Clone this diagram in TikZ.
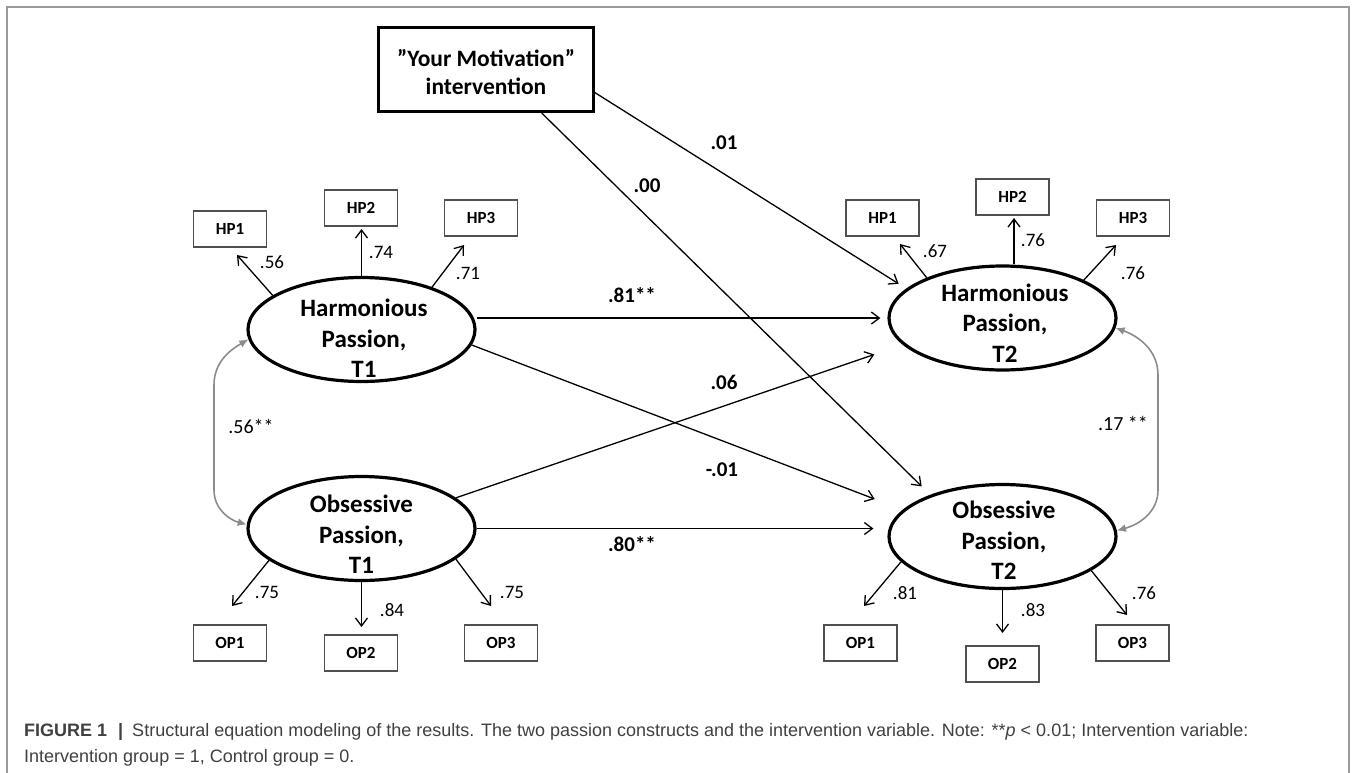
\documentclass[tikz,border=0pt]{standalone}
\usepackage{fontspec}
\setmainfont{Carlito}
\newfontfamily\capfont{Liberation Sans}
\usetikzlibrary{shapes.geometric,arrows.meta}
\definecolor{covgray}{HTML}{8C8C8C}
\definecolor{boxgray}{HTML}{505050}
\definecolor{framegray}{HTML}{9A9A9A}
\definecolor{captext}{HTML}{404040}
\begin{document}
\begin{tikzpicture}[x=10bp,y=10bp]
\tikzstyle{every node}+=[inner sep=0pt]
\tikzstyle{latent}=[draw=black, line width=3.2bp, ellipse, minimum width=227bp, minimum height=104bp]
\tikzstyle{ltext}=[align=center, font=\fontsize{25bp}{30.5bp}\selectfont\bfseries]
\tikzstyle{item}=[draw=boxgray, line width=1.2bp, minimum width=73bp, minimum height=36bp, font=\fontsize{17bp}{20bp}\selectfont\bfseries]
\tikzstyle{load}=[font=\fontsize{19bp}{22bp}\selectfont]
\tikzstyle{coef}=[font=\fontsize{21bp}{24bp}\selectfont\bfseries]
\tikzstyle{corr}=[font=\fontsize{20bp}{24bp}\selectfont]
\tikzstyle{regr}=[black, line width=1.3bp, -{Straight Barb[length=8bp,width=12bp,line width=1.3bp]}]
\tikzstyle{cov}=[covgray, line width=1.6bp, {Latex[length=9bp,width=8bp]}-{Latex[length=9bp,width=8bp]}]
\useasboundingbox (0,0) rectangle (135.6,-77.3);
\draw [framegray, line width=1.2bp] (0.7,-77.5) -- (0.7,-0.7) -- (134.9,-0.7) -- (134.9,-77.5);
\draw (48.6,-6.95) node (int) [draw=black, line width=3bp, minimum width=215bp, minimum height=84bp] {};
\draw (48.6,-7.2) node (inttx) [align=center, font=\fontsize{23.5bp}{28bp}\selectfont\bfseries] {”Your Motivation”\\intervention};
\draw (36.15,-32.95) node (hpa) [latent] {};
\draw (36.4,-33.85) node (hpatx) [ltext] {Harmonious\\Passion,\\T1};
\draw (100.25,-31.8) node (hpb) [latent] {};
\draw (100.5,-32.3) node (hpbtx) [ltext] {Harmonious\\Passion,\\T2};
\draw (36.15,-52.85) node (opa) [latent] {};
\draw (36.15,-53.45) node (opatx) [ltext] {Obsessive\\Passion,\\T1};
\draw (100.25,-53.65) node (opb) [latent] {};
\draw (100.4,-54.05) node (opbtx) [ltext] {Obsessive\\Passion,\\T2};
\draw (23.0,-22.9) node (hp1a) [item] {HP1};
\draw (36.1,-20.8) node (hp2a) [item] {HP2};
\draw (48.1,-21.8) node (hp3a) [item] {HP3};
\draw (88.25,-21.8) node (hp1b) [item] {HP1};
\draw (101.25,-19.7) node (hp2b) [item] {HP2};
\draw (113.3,-21.8) node (hp3b) [item] {HP3};
\draw (23.0,-64.3) node (op1a) [item] {OP1};
\draw (36.1,-65.3) node (op2a) [item] {OP2};
\draw (50.1,-64.3) node (op3a) [item] {OP3};
\draw (86.05,-64.3) node (op1b) [item] {OP1};
\draw (100.25,-66.4) node (op2b) [item] {OP2};
\draw (113.25,-64.3) node (op3b) [item] {OP3};
\coordinate (hp1at) at (23.7,-25.5);
\coordinate (hp2at) at (36.15,-22.9);
\coordinate (hp3at) at (46.4,-24.5);
\coordinate (hp1bt) at (90.0,-24.4);
\coordinate (hp2bt) at (101.4,-21.8);
\coordinate (hp3bt) at (111.6,-24.5);
\coordinate (op1at) at (23.2,-60.6);
\coordinate (op2at) at (36.15,-62.7);
\coordinate (op3at) at (49.1,-60.6);
\coordinate (op1bt) at (86.4,-60.6);
\coordinate (op2bt) at (100.25,-63.3);
\coordinate (op3bt) at (112.7,-61.5);
\draw [regr] (hpa.159) -- (hp1at);
\draw [regr] (hpa.north) -- (hp2at);
\draw [regr] (hpa.31) -- (hp3at);
\draw [regr] (hpb.152) -- (hp1bt);
\draw [regr] (hp2bt |- hpb.north) -- (hp2bt);
\draw [regr] (hpb.25) -- (hp3bt);
\draw [regr] (opa.199) -- (op1at);
\draw [regr] (opa.south) -- (op2at);
\draw [regr] (opa.342) -- (op3at);
\draw [regr] (opb.194) -- (op1bt);
\draw [regr] (opb.south) -- (op2bt);
\draw [regr] (opb.339) -- (op3bt);
\draw (27.2,-26.2) node (l1) [load] {.56};
\draw (38.1,-25.2) node (l2) [load] {.74};
\draw (46.8,-27.3) node (l3) [load] {.71};
\draw (93.5,-25.1) node (l4) [load] {.67};
\draw (103.3,-24.0) node (l5) [load] {.76};
\draw (113.3,-27.3) node (l6) [load] {.76};
\draw (26.7,-59.2) node (l7) [load] {.75};
\draw (39.2,-61.0) node (l8) [load] {.84};
\draw (51.2,-59.2) node (l9) [load] {.75};
\draw (90.5,-59.3) node (l10) [load] {.81};
\draw (103.3,-61.0) node (l11) [load] {.83};
\draw (114.4,-59.3) node (l12) [load] {.76};
\draw [regr, shorten >=9bp] (int.-12) -- (hpb.163);
\draw [regr, shorten >=12bp] (int.-38) -- (opb.150);
\draw [regr, shorten >=7bp] (hpa.east |- hpb.west) -- (hpb.west);
\draw [regr, shorten >=30bp] (hpa.-8) -- (opb.165);
\draw [regr, shorten >=30bp] (opa.18) -- (hpb.195);
\draw [regr, shorten >=14bp] (opa.east) -- (opa.east -| opb.west);
\draw [cov] (hpa.185) to[out=210,in=90] (21.4,-38.5) -- (21.4,-49.0) to[out=-90,in=165] (opa.178);
\draw [cov] (hpb.355) to[out=-20,in=90] (115.8,-37.5) -- (115.8,-49.0) to[out=-90,in=15] (opb.3);
\draw (72.4,-14.3) node (c1) [coef] {.01};
\draw (64.7,-18.6) node (c2) [coef] {.00};
\draw (63.2,-29.5) node (c3) [coef] {.81**};
\draw (72.4,-38.2) node (c4) [coef] {.06};
\draw (72.2,-47.0) node (c5) [coef] {-.01};
\draw (63.2,-54.4) node (c6) [coef] {.80**};
\draw (25.1,-42.6) node (r1) [corr] {.56**};
\draw (112.3,-42.3) node (r2) [corr] {.17 **};
\draw (2.4,-76.2) node (cap) [anchor=base west, align=left, text=captext, font=\capfont\fontsize{18bp}{25.5bp}\selectfont] {{\bfseries FIGURE 1}\hspace{11bp}{\bfseries |}\hspace{9bp}Structural equation modeling of the results. The two passion constructs and the intervention variable. Note: **\textit{p} < 0.01; Intervention variable:\\Intervention group = 1, Control group = 0.};
\end{tikzpicture}
\end{document}
